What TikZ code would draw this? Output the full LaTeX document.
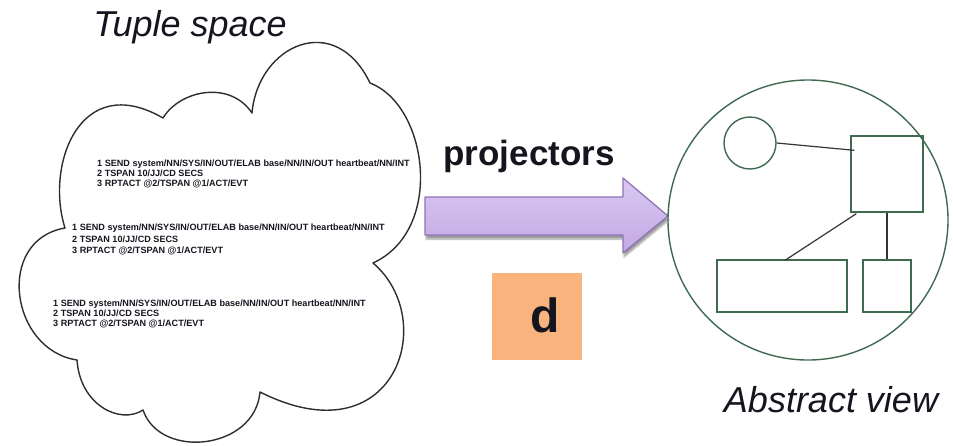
\documentclass[tikz,border=0pt]{standalone}
\usepackage{fontspec}
\usetikzlibrary{shadows.blur,calc}
\newfontfamily\arialf{Liberation Sans}
\definecolor{viewgreen}{HTML}{3F6A50}
\definecolor{edgegray}{HTML}{353535}
\definecolor{cloudgray}{HTML}{2E2E2E}
\definecolor{arrowtop}{HTML}{D9C8F1}
\definecolor{arrowbot}{HTML}{C3A9E3}
\definecolor{arrowline}{HTML}{9174B8}
\definecolor{dfill}{HTML}{F8B47C}
\definecolor{inktext}{HTML}{15151F}

\tikzset{
  tupletext/.style={anchor=base west, inner sep=0pt, text=inktext,
    font=\arialf\bfseries\fontsize{9.1}{10}\selectfont},
  caption/.style={anchor=base, inner sep=0pt, text=inktext,
    font=\arialf\itshape\fontsize{36}{40}\selectfont},
  viewpart/.style={draw=viewgreen, line width=1.4pt, inner sep=0pt},
  viewlink/.style={draw=edgegray, line width=1.2pt},
}

\begin{document}
\begin{tikzpicture}[x=1pt,y=-1pt]
\useasboundingbox (0,0) rectangle (953,445);

% tuple space cloud
\draw[cloudgray, line width=1.4pt, line join=round]
  (65,228) .. controls (45,165) and (80,70) .. (163,118)
  .. controls (180,90) and (230,80) .. (252,113)
  .. controls (258,45) and (335,10) .. (370,83)
  .. controls (428,105) and (445,230) .. (373,263)
  .. controls (440,320) and (395,460) .. (260,392)
  .. controls (255,450) and (160,460) .. (143,410)
  .. controls (120,425) and (80,405) .. (77,360)
  .. controls (10,350) and (-5,240) .. cycle;

\node[caption] (tuplecap) at (190,36) {Tuple space};

% tuples inside the cloud
\foreach \bx/\by/\bs [count=\i] in {97/166/10, 72/230.5/11.5, 53/306/10} {
  \node[tupletext] (tup\i-1) at (\bx,\by) {1 SEND system/NN/SYS/IN/OUT/ELAB base/NN/IN/OUT heartbeat/NN/INT};
  \node[tupletext] (tup\i-2) at (\bx,\by+\bs) {2 TSPAN 10/JJ/CD SECS};
  \node[tupletext] (tup\i-3) at (\bx,\by+2*\bs) {3 RPTACT @2/TSPAN @1/ACT/EVT};
}

% projector arrow
\path[blur shadow={shadow xshift=1pt, shadow yshift=-4pt, shadow blur steps=6, shadow opacity=40},
      top color=arrowtop, bottom color=arrowbot, draw=arrowline, line width=1.3pt, line join=round]
  (425,197) -- (623,197) -- (623,178) -- (668,216) -- (623,253) -- (623,235) -- (425,235) -- cycle;
\node[anchor=base, inner sep=0pt, text=inktext, font=\arialf\bfseries\fontsize{35}{40}\selectfont]
  (projlabel) at (529,165) {projectors};

% d box
\node[fill=dfill, minimum width=90pt, minimum height=87pt, inner sep=0pt] (dbox) at (537,316.5) {};
\node[anchor=base, inner sep=0pt, text=inktext, font=\arialf\bfseries\fontsize{48}{52}\selectfont]
  (dlabel) at (545,332) {d};

% abstract view
\node[circle, viewpart, minimum size=280pt] (view) at (808,220) {};
\node[circle, viewpart, minimum size=52pt] (comp) at (750,143) {};
\node[rectangle, viewpart, minimum width=72pt, minimum height=76pt] (hub) at (887,174) {};
\node[rectangle, viewpart, minimum width=130pt, minimum height=52pt] (wide) at (782,286) {};
\node[rectangle, viewpart, minimum width=48pt, minimum height=52pt] (small) at (887,286) {};

\draw[viewlink] (comp.east) -- ($(hub.north west)+(4,15)$);
\draw[viewlink] ($(hub.south west)+(6,1)$) -- ($(wide.north)+(3,1)$);
\draw[viewlink] (hub.south) -- (small.north);

\node[caption] (viewcap) at (831,412) {Abstract view};
\end{tikzpicture}
\end{document}
